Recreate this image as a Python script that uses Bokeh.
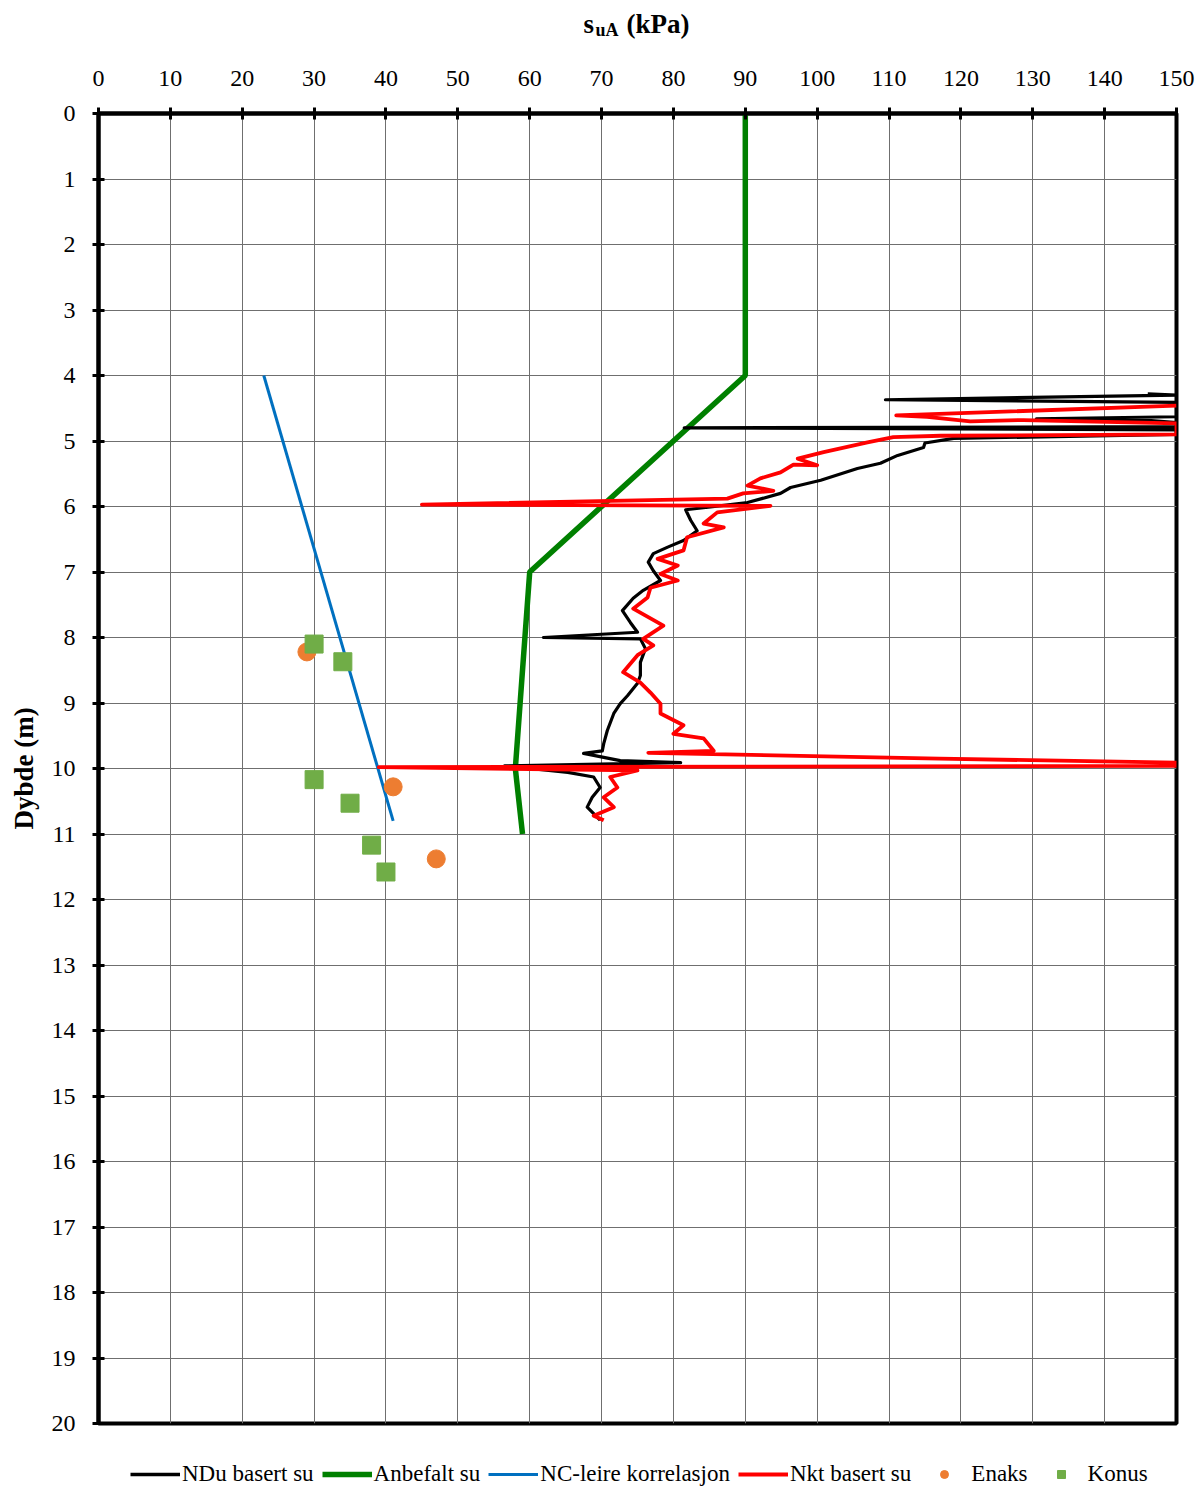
from bokeh.plotting import figure
from bokeh.layouts import column
from bokeh.models import Range1d, FixedTicker, Legend, LegendItem
from bokeh.core.properties import value
from bokeh.embed import file_html
from bokeh.resources import INLINE

# --- Undrained shear strength profiles (su in kPa vs depth in m) ---
ndu_su = [146, 150, 109.5, 150, 150, 130.5, 146.5, 150, 150, 81.5, 150, 150,
          119, 115, 114.8, 111.2, 108.8, 105.6, 100.5, 96.3, 94.9, 90.3,
          81.7, 82.4, 83.3, 81.4, 79.2, 77.2, 76.5, 77.2, 78.2, 75.8, 74.4,
          72.9, 74.0, 75.0, 61.9, 75.4, 76.1, 75.4, 75.4, 75.0, 73.6, 72.6,
          71.7, 70.8, 70.3, 70.1, 67.5, 70.3, 72.6, 81.0, 56.5, 65.3, 68.9,
          69.8, 68.7, 68.0, 68.9, 69.8]
ndu_depth = [4.28, 4.30, 4.37, 4.41, 4.63, 4.66, 4.69, 4.72, 4.78, 4.80, 4.83, 4.90,
             4.96, 5.03, 5.10, 5.22, 5.34, 5.42, 5.60, 5.71, 5.80, 5.94,
             6.05, 6.21, 6.37, 6.52, 6.62, 6.72, 6.85, 6.98, 7.13, 7.28, 7.40,
             7.59, 7.77, 7.92, 8.00, 8.02, 8.17, 8.38, 8.58, 8.70, 8.89, 9.01,
             9.16, 9.42, 9.62, 9.73, 9.77, 9.83, 9.88, 9.91, 9.96, 10.06, 10.13,
             10.29, 10.44, 10.59, 10.69, 10.79]

nkt_su = [150, 111, 115.3, 121.3, 128.7, 150, 150, 117.2, 110.6, 107.0, 100.9,
          97.3, 100.0, 96.7, 94.9, 92.1, 90.3, 93.9, 89.7, 87.5, 45, 93.5,
          86.1, 84.2, 87.0, 81.9, 81.4, 77.8, 80.6, 78.2, 80.6, 76.8, 76.4,
          74.4, 78.6, 75.8, 77.2, 75.0, 73.0, 75.4, 76.8, 78.2, 78.2, 81.4,
          80.0, 84.2, 85.6, 76.5, 117, 150, 150, 39, 75.0, 71.2, 72.2, 70.3,
          71.7, 68.9, 70.3]
nkt_depth = [4.46, 4.61, 4.63, 4.70, 4.68, 4.73, 4.90, 4.92, 4.94, 5.02, 5.17,
             5.27, 5.37, 5.36, 5.48, 5.57, 5.68, 5.76, 5.80, 5.88, 5.97, 5.99,
             6.09, 6.26, 6.32, 6.47, 6.67, 6.80, 6.90, 7.03, 7.13, 7.24, 7.39,
             7.56, 7.82, 8.02, 8.12, 8.27, 8.53, 8.69, 8.84, 9.01, 9.16, 9.34,
             9.47, 9.54, 9.73, 9.76, 9.85, 9.91, 9.96, 9.98, 10.03, 10.13, 10.29, 10.44,
             10.59, 10.72, 10.79]

anbefalt_su = [90, 90, 60, 58, 59]
anbefalt_depth = [0, 4, 7, 10, 11]

nc_su = [23, 41]
nc_depth = [4.0, 10.8]

enaks_su = [29, 41, 47]
enaks_depth = [8.22, 10.28, 11.38]

konus_su = [30, 34, 30, 35, 38, 40]
konus_depth = [8.10, 8.37, 10.17, 10.53, 11.17, 11.58]

x_ticks = list(range(0, 151, 10))
y_ticks = list(range(0, 21, 1))

series_labels = ["NDu basert su", "Anbefalt su", "NC-leire korrelasjon",
                 "Nkt basert su", "Enaks", "Konus"]

FONT = "Liberation Serif"
BLACK, GREEN, BLUE, RED = "black", "#008000", "#0070C0", "#FF0000"
ORANGE, LIGHTGREEN = "#ED7D31", "#70AD47"

W = 1202
FRAME_L, FRAME_R = 98, 1176
TITLE_H = 50
LEGEND_H = 45
MAIN_H = 1488 - TITLE_H - LEGEND_H


def strip(height):
    # A bare figure whose data units equal canvas pixels (frames are aligned in the column)
    f = figure(width=W, height=height, output_backend="svg", toolbar_location=None,
               x_range=Range1d(FRAME_L, FRAME_R), y_range=Range1d(0, height),
               x_axis_location=None, y_axis_location=None,
               min_border=0, background_fill_color="white",
               border_fill_color="white")
    f.outline_line_color = None
    f.grid.visible = False
    return f


# Axis title strip: s with subscript uA, then the unit
top = strip(TITLE_H)
top.text(x=[583], y=[27], text=["s"], text_font=value(FONT), text_font_style="bold",
         text_font_size="27px", text_baseline="alphabetic", text_align="left",
         text_color="black")
top.text(x=[595], y=[21], text=["uA"], text_font=value(FONT), text_font_style="bold",
         text_font_size="18px", text_baseline="alphabetic", text_align="left",
         text_color="black")
top.text(x=[626], y=[27], text=["(kPa)"], text_font=value(FONT), text_font_style="bold",
         text_font_size="27px", text_baseline="alphabetic", text_align="left",
         text_color="black")

# Main chart
p = figure(width=W, height=MAIN_H, output_backend="svg", toolbar_location=None,
           x_range=Range1d(0, 150), y_range=Range1d(20, 0),
           x_axis_location="above",
           min_border_left=FRAME_L, min_border_right=W - FRAME_R,
           min_border_top=113 - TITLE_H, min_border_bottom=MAIN_H + TITLE_H - 1423,
           background_fill_color="white", border_fill_color="white")

p.outline_line_color = "black"
p.outline_line_width = 4

for ax in (p.xaxis[0], p.yaxis[0]):
    ax.axis_line_width = 4
    ax.axis_line_color = "black"
    ax.major_tick_line_width = 3
    ax.major_tick_line_color = "black"
    ax.major_tick_in = 6
    ax.major_tick_out = 6
    ax.minor_tick_line_color = None
    ax.major_label_text_font = FONT
    ax.major_label_text_font_size = "24px"
    ax.major_label_text_color = "black"

p.xaxis[0].ticker = FixedTicker(ticks=x_ticks)
p.yaxis[0].ticker = FixedTicker(ticks=y_ticks)
p.xaxis[0].major_label_standoff = 22
p.yaxis[0].major_label_standoff = 17

p.yaxis[0].axis_label = "Dybde (m)"
p.yaxis[0].axis_label_text_font = FONT
p.yaxis[0].axis_label_text_font_style = "bold"
p.yaxis[0].axis_label_text_font_size = "27px"
p.yaxis[0].axis_label_text_color = "black"
p.yaxis[0].axis_label_standoff = 10

p.xgrid.ticker = FixedTicker(ticks=x_ticks)
p.ygrid.ticker = FixedTicker(ticks=y_ticks)
p.grid.grid_line_color = "#6f6f6f"
p.grid.grid_line_width = 1

p.line(anbefalt_su, anbefalt_depth, line_color=GREEN, line_width=5.5)
p.line(nc_su, nc_depth, line_color=BLUE, line_width=3)
p.line(ndu_su, ndu_depth, line_color=BLACK, line_width=3.2, line_join="round")
p.line(nkt_su, nkt_depth, line_color=RED, line_width=3.8, line_join="round")
p.scatter(enaks_su, enaks_depth, marker="circle", size=18,
          fill_color=ORANGE, line_color=ORANGE)
p.scatter(konus_su, konus_depth, marker="square", size=18,
          fill_color=LIGHTGREEN, line_color=LIGHTGREEN)

# Legend strip below the chart; the key renderers sit outside its visible range
bot = strip(LEGEND_H)
off_x, off_y = [-1000, -990], [-1000, -1000]
lg_renderers = [
    bot.line(off_x, off_y, line_color=BLACK, line_width=3.5),
    bot.line(off_x, off_y, line_color=GREEN, line_width=5.5),
    bot.line(off_x, off_y, line_color=BLUE, line_width=3),
    bot.line(off_x, off_y, line_color=RED, line_width=3.8),
    bot.scatter(off_x, off_y, marker="circle", size=13, fill_color=ORANGE, line_color=ORANGE),
    bot.scatter(off_x, off_y, marker="square", size=13, fill_color=LIGHTGREEN,
                line_color=LIGHTGREEN),
]
legend = Legend(items=[LegendItem(label=lab, renderers=[r])
                       for lab, r in zip(series_labels, lg_renderers)],
                orientation="horizontal", location=(32, 1))
legend.label_text_font = FONT
legend.label_text_font_size = "23px"
legend.label_text_color = "black"
legend.glyph_width = 50
legend.glyph_height = 20
legend.label_standoff = 2
legend.spacing = 8
legend.padding = 4
legend.margin = 0
legend.border_line_color = None
legend.background_fill_alpha = 0
bot.add_layout(legend, "center")

layout = column(top, p, bot, spacing=0)
open("out.html", "w").write(file_html(layout, INLINE))
